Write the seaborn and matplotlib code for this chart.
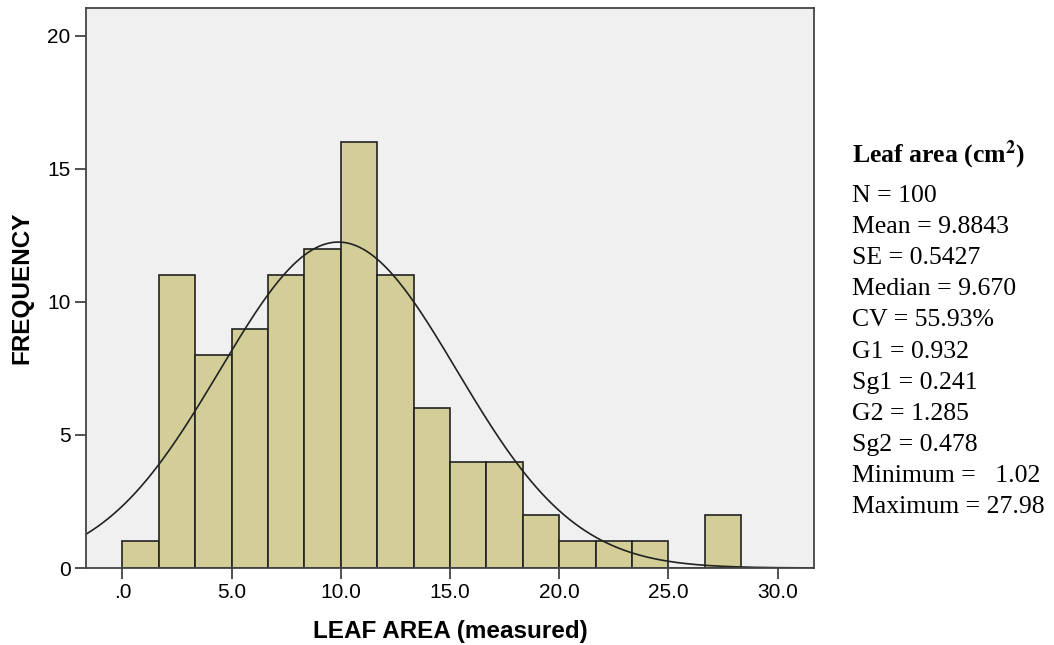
import numpy as np
import pandas as pd
import matplotlib
matplotlib.use("Agg")
import matplotlib.pyplot as plt
import seaborn as sns

# ---- data ----
bin_width = 5.0 / 3.0
bin_starts = [i * bin_width for i in range(17)]
counts = [1, 11, 8, 9, 11, 12, 16, 11, 6, 4, 4, 2, 1, 1, 1, 0, 2]
n_obs = 100
mean_val = 9.8843
se_val = 0.5427
x_ticks = [0, 5, 10, 15, 20, 25, 30]
x_ticklabels = [".0", "5.0", "10.0", "15.0", "20.0", "25.0", "30.0"]
y_ticks = [0, 5, 10, 15, 20]
stats_title = r"Leaf area (cm$^{\mathbf{2}}$)"
stats_lines = ["N = 100", "Mean = 9.8843", "SE = 0.5427", "Median = 9.670",
               "CV = 55.93%", "G1 = 0.932", "Sg1 = 0.241", "G2 = 1.285",
               "Sg2 = 0.478", "Minimum =   1.02", "Maximum = 27.98"]

df = pd.DataFrame({"center": [s + bin_width / 2 for s in bin_starts], "count": counts})
edges = bin_starts + [bin_starts[-1] + bin_width]

sns.set_style("white")
plt.rcParams["font.family"] = ["Liberation Sans", "DejaVu Sans"]
plt.rcParams["mathtext.fontset"] = "stix"
plt.rcParams["text.color"] = "black"

fig = plt.figure(figsize=(10.54, 6.45), dpi=100)
ax = fig.add_axes([86 / 1054, 1 - 568 / 645, (814 - 86) / 1054, (568 - 8) / 645])
ax.set_facecolor("#F0F0F0")

sns.histplot(data=df, x="center", weights="count", bins=edges, ax=ax,
             color="#D3CE97", alpha=1.0, edgecolor="#222222", linewidth=1.2)

# fitted normal curve
sd = se_val * np.sqrt(n_obs)
xs = np.linspace(-1.67, 31.67, 400)
ys = n_obs * bin_width / (sd * np.sqrt(2 * np.pi)) * np.exp(-0.5 * ((xs - mean_val) / sd) ** 2)
sns.lineplot(x=xs, y=ys, ax=ax, color="#222222", linewidth=1.2)

ax.set_xlim(-1.67, 31.67)
ax.set_ylim(0, 21.05)
ax.set_xticks(x_ticks)
ax.set_xticklabels(x_ticklabels)
ax.set_yticks(y_ticks)
ax.tick_params(axis="both", direction="out", length=8, width=1.2, color="#333333",
               labelsize=15, labelcolor="black", bottom=True, left=True, pad=3)
for sp in ax.spines.values():
    sp.set_color("#444444")
    sp.set_linewidth(1.3)

ax.set_xlabel("LEAF AREA (measured)", fontsize=17.5, fontweight="bold", color="black", labelpad=13)
ax.set_ylabel("FREQUENCY", fontsize=17.5, fontweight="bold", color="black", labelpad=10)

serif = ["Liberation Serif", "DejaVu Serif"]
fig.text(852 / 1054, 1 - 155 / 645, stats_title, family=serif, fontsize=18.5,
         fontweight="bold", va="center", ha="left", color="black")
for i, line in enumerate(stats_lines):
    y = 196 + i * 31.1
    fig.text(852 / 1054, 1 - y / 645, line, family=serif, fontsize=18.5,
             va="center", ha="left", color="black")

fig.savefig("out.png", dpi=100)
